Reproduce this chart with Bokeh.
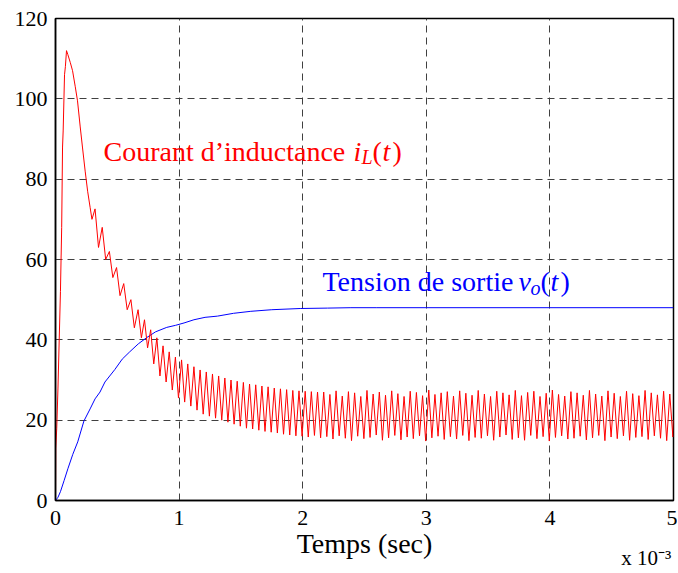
from bokeh.plotting import figure
from bokeh.models import Label, Range1d, FixedTicker, LinearAxis
from bokeh.embed import file_html
from bokeh.resources import INLINE

# ---- data (time in units of 1e-3 s) ----
x_ticks = [0, 1, 2, 3, 4, 5]
y_ticks = [0, 20, 40, 60, 80, 100, 120]

# inductor current: start-up transient
red_t_rise = [0.0, 0.002, 0.01, 0.02, 0.03, 0.04, 0.05, 0.057, 0.062, 0.073, 0.08, 0.089,
              0.1, 0.12, 0.138, 0.16, 0.178, 0.2, 0.218, 0.24, 0.26, 0.28, 0.295]
red_v_rise = [0, 13, 18, 28, 40, 52, 68, 88, 92, 106, 108, 112,
              111, 109, 107, 103, 99.5, 93, 88, 82, 77, 73, 70]

# inductor current: ripple peaks
peak_t = [0.32, 0.378, 0.436, 0.494, 0.552, 0.61, 0.668,
          0.72, 0.77, 0.82, 0.87, 0.92, 0.97, 1.02, 1.07, 1.12, 1.17,
          1.22, 1.27, 1.32, 1.37, 1.42, 1.47, 1.52, 1.57, 1.62, 1.67,
          1.72, 1.77, 1.82, 1.87, 1.92, 1.97, 2.02, 2.07, 2.12, 2.17,
          2.22, 2.27, 2.32, 2.37, 2.42, 2.47, 2.52, 2.57, 2.62, 2.67,
          2.72, 2.77, 2.82, 2.87, 2.92, 2.97, 3.02, 3.07, 3.12, 3.17,
          3.22, 3.27, 3.32, 3.37, 3.42, 3.47, 3.52, 3.57, 3.62, 3.67,
          3.72, 3.77, 3.82, 3.87, 3.92, 3.97, 4.02, 4.07, 4.12, 4.17,
          4.22, 4.27, 4.32, 4.37, 4.42, 4.47, 4.52, 4.57, 4.62, 4.67,
          4.72, 4.77, 4.82, 4.87, 4.92, 4.97]
peak_v = [72.6, 68.0, 62.0, 58.0, 54.0, 50.0, 47.5,
          45.0, 42.5, 40.5, 38.5, 37.0, 35.7, 35.0, 34.0, 33.3, 32.5,
          32.0, 31.5, 31.0, 30.5, 30.0, 29.7, 29.4, 29.0, 28.8, 28.5,
          28.3, 28.0, 27.8, 27.6, 27.4, 27.3, 27.2, 27.1, 27.0, 27.0,
          26.4, 27.3, 26.0, 27.1, 26.8, 25.9, 27.4, 26.5, 27.0, 26.2,
          27.3, 26.6, 25.9, 27.2, 26.9, 26.1, 27.5, 26.4, 26.8, 27.1,
          26.0, 27.3, 26.7, 26.2, 27.4, 26.5, 25.9, 27.2, 26.8, 26.3,
          27.4, 26.1, 26.9, 27.2, 25.9, 26.7, 27.5, 26.4, 26.0, 27.1,
          26.8, 26.2, 27.4, 26.5, 26.0, 27.3, 26.7, 25.9, 27.2, 26.6,
          26.1, 27.4, 26.8, 26.3, 27.2, 26.5]

# inductor current: ripple troughs
trough_t = [0.348, 0.406, 0.464, 0.522, 0.58, 0.638, 0.695,
            0.745, 0.795, 0.845, 0.895, 0.945, 0.995, 1.045, 1.095, 1.145, 1.195,
            1.245, 1.295, 1.345, 1.395, 1.445, 1.495, 1.545, 1.595, 1.645, 1.695,
            1.745, 1.795, 1.845, 1.895, 1.945, 1.995, 2.045, 2.095, 2.145, 2.195,
            2.245, 2.295, 2.345, 2.395, 2.445, 2.495, 2.545, 2.595, 2.645, 2.695,
            2.745, 2.795, 2.845, 2.895, 2.945, 2.995, 3.045, 3.095, 3.145, 3.195,
            3.245, 3.295, 3.345, 3.395, 3.445, 3.495, 3.545, 3.595, 3.645, 3.695,
            3.745, 3.795, 3.845, 3.895, 3.945, 3.995, 4.045, 4.095, 4.145, 4.195,
            4.245, 4.295, 4.345, 4.395, 4.445, 4.495, 4.545, 4.595, 4.645, 4.695,
            4.745, 4.795, 4.845, 4.895, 4.945, 4.995]
trough_v = [63.0, 60.0, 55.5, 51.0, 47.5, 43.0, 40.5,
            38.0, 34.0, 31.0, 29.5, 27.5, 25.5, 24.5, 23.5, 22.5, 21.5,
            21.0, 20.5, 20.0, 19.5, 19.0, 18.5, 18.0, 17.8, 17.5, 17.2,
            17.0, 16.8, 16.5, 16.3, 16.1, 16.0, 15.8, 16.2, 15.6, 15.9,
            15.3, 16.1, 15.5, 14.9, 16.0, 15.4, 15.7, 16.3, 15.0, 15.6,
            16.2, 15.1, 15.8, 15.4, 16.1, 14.8, 15.6, 16.0, 15.2, 15.9,
            15.3, 16.2, 14.9, 15.7, 15.5, 16.1, 15.0, 15.8, 16.3, 15.2,
            15.6, 15.0, 16.2, 15.4, 15.9, 14.8, 15.7, 16.1, 15.3, 15.5,
            16.0, 15.1, 15.6, 16.2, 14.9, 15.8, 15.4, 16.1, 15.0, 15.7,
            15.9, 15.2, 16.1, 15.5, 14.9, 15.8]
red_t_end = [5.0]
red_v_end = [20.0]

# output voltage
blue_t = [0, 0.02, 0.04, 0.07, 0.1, 0.14, 0.18, 0.23, 0.28, 0.32, 0.36, 0.4, 0.48, 0.54,
          0.6, 0.67, 0.74, 0.81, 0.9, 0.97, 1.04, 1.12, 1.21, 1.31, 1.44, 1.58, 1.75,
          1.98, 2.2, 2.39, 2.6, 3.0, 4.0, 5.0]
blue_v = [0, 0.8, 2.2, 5, 7.9, 11.5, 14.6, 19.8, 22.8, 25.3, 27, 29.5, 32.6, 35.2,
          37, 39, 40.6, 42, 43.1, 43.6, 44.2, 45, 45.6, 45.9, 46.6, 47.1, 47.5,
          47.8, 47.9, 48.0, 48.0, 48.0, 48.0, 48.0]

exp_tick = [4.78]
exp_text = "x 10\u207b\u00b3"

# ---- assemble red path ----
red_t = list(red_t_rise)
red_v = list(red_v_rise)
for tp, vp, tt, vt in zip(peak_t, peak_v, trough_t, trough_v):
    red_t += [tp, tt]
    red_v += [vp, vt]
red_t += red_t_end
red_v += red_v_end

FONT = "Liberation Serif"

p = figure(width=677, height=572, output_backend="svg", toolbar_location=None,
           x_range=Range1d(0, 5), y_range=Range1d(0, 120),
           min_border_left=55, min_border_right=4, min_border_top=18, min_border_bottom=70)
p.background_fill_color = "white"
p.border_fill_color = "white"
p.outline_line_color = "black"
p.outline_line_width = 1.5

for ax in (p.xaxis, p.yaxis):
    ax.axis_line_color = "black"
    ax.axis_line_width = 1.5
    ax.major_tick_in = 0
    ax.major_tick_out = 0
    ax.minor_tick_in = 0
    ax.minor_tick_out = 0
    ax.major_label_text_font = FONT
    ax.major_label_text_font_size = "22px"
    ax.major_label_text_color = "black"
p.xaxis.ticker = FixedTicker(ticks=x_ticks)
p.yaxis.ticker = FixedTicker(ticks=y_ticks)
p.xaxis.major_label_standoff = 10
p.yaxis.major_label_standoff = 8
p.xaxis.axis_label = "Temps (sec)"
p.xaxis.axis_label_text_font = FONT
p.xaxis.axis_label_text_font_size = "28px"
p.xaxis.axis_label_text_font_style = "normal"
p.xaxis.axis_label_text_color = "black"
p.xaxis.axis_label_standoff = 0

# exponent note under the right end of the time axis
ex = LinearAxis(ticker=FixedTicker(ticks=exp_tick), major_label_overrides={exp_tick[0]: exp_text})
ex.axis_line_color = None
ex.major_tick_in = 0
ex.major_tick_out = 0
ex.minor_tick_in = 0
ex.minor_tick_out = 0
ex.major_label_text_font = FONT
ex.major_label_text_font_size = "21px"
ex.major_label_text_color = "black"
ex.major_label_standoff = -16
p.add_layout(ex, "below")

for g in (p.xgrid, p.ygrid):
    g.grid_line_color = "#404040"
    g.grid_line_dash = "7 5"
    g.grid_line_width = 1
p.xgrid.ticker = FixedTicker(ticks=x_ticks)
p.ygrid.ticker = FixedTicker(ticks=y_ticks)

p.line(blue_t, blue_v, line_color="#0000ff", line_width=1)
p.line(red_t, red_v, line_color="#ff0000", line_width=1)

def lab(x, y, text, color="black", size="28px", style="normal", xo=0, yo=0, align="left"):
    p.add_layout(Label(x=x, y=y, text=text, text_color=color, text_font=FONT,
                       text_font_size=size, text_font_style=style, x_offset=xo, y_offset=yo,
                       text_align=align, text_baseline="alphabetic"))

# red annotation
cx, cy = 0.388, 87.0
lab(cx, cy, "Courant d\u2019inductance", "#ff0000")
lab(cx, cy, "i", "#ff0000", style="italic", xo=250)
lab(cx, cy, "L", "#ff0000", size="20px", style="italic", xo=258, yo=-6)
lab(cx, cy, "(", "#ff0000", xo=269)
lab(cx, cy, "t", "#ff0000", style="italic", xo=279)
lab(cx, cy, ")", "#ff0000", xo=289)

# blue annotation
bx, by = 2.16, 54.4
lab(bx, by, "Tension de sortie", "#0000ff")
lab(bx, by, "v", "#0000ff", style="italic", xo=196)
lab(bx, by, "o", "#0000ff", size="20px", style="italic", xo=208, yo=-6)
lab(bx, by, "(", "#0000ff", xo=218)
lab(bx, by, "t", "#0000ff", style="italic", xo=228)
lab(bx, by, ")", "#0000ff", xo=238)

open("out.html", "w").write(file_html(p, INLINE))
